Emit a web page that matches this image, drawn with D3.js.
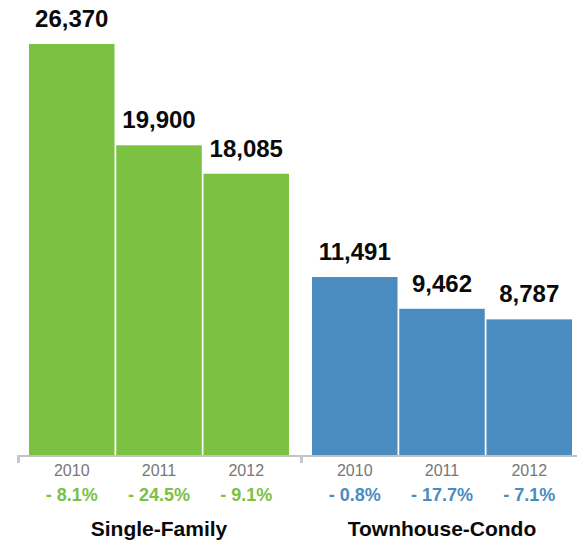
<!DOCTYPE html>
<html>
<head>
<meta charset="utf-8">
<script src="https://cdn.jsdelivr.net/npm/d3@7"></script>
<style>
  body { margin: 0; background: #fff; }
  svg { display: block; font-family: "Liberation Sans", Arial, Helvetica, sans-serif; }
</style>
</head>
<body>
<script>
// data
var groups = ['Single-Family', 'Townhouse-Condo'];
var years = ['2010', '2011', '2012'];
var singleFamily = [26370, 19900, 18085];
var townhouseCondo = [11491, 9462, 8787];
var singleChange = ['- 8.1%', '- 24.5%', '- 9.1%'];
var townChange = ['- 0.8%', '- 17.7%', '- 7.1%'];
var colors = ['#7bc142', '#4a8bc0'];

var width = 577, height = 543;
var baseY = 457;

var values = [singleFamily, townhouseCondo];
var changes = [singleChange, townChange];

var svg = d3.select('body').append('svg')
    .attr('width', width)
    .attr('height', height);

var x0 = d3.scaleBand()
    .domain(groups)
    .range([29, 572])
    .paddingInner(0.0813);

var x1 = d3.scaleBand()
    .domain(years)
    .range([0, x0.bandwidth()])
    .paddingInner(0.02);

var y = d3.scaleLinear()
    .domain([0, d3.max(singleFamily)])
    .range([baseY, 44]);

var fmt = d3.format(',');
var gap = x0.step() - x0.bandwidth();

groups.forEach(function (g, gi) {
    var rows = years.map(function (yr, i) {
        return { year: yr, value: values[gi][i], change: changes[gi][i] };
    });
    var grp = svg.append('g')
        .attr('transform', 'translate(' + x0(g) + ',0)');

    grp.selectAll('rect')
        .data(rows)
        .enter().append('rect')
        .attr('x', function (d) { return x1(d.year); })
        .attr('y', function (d) { return y(d.value); })
        .attr('width', x1.bandwidth())
        .attr('height', function (d) { return baseY - y(d.value); })
        .attr('fill', colors[gi]);

    // value labels
    grp.selectAll('.val')
        .data(rows)
        .enter().append('text')
        .attr('class', 'val')
        .attr('x', function (d) { return x1(d.year) + x1.bandwidth() / 2; })
        .attr('y', function (d) { return y(d.value) - 17; })
        .attr('text-anchor', 'middle')
        .style('font-size', '24px')
        .style('font-weight', 'bold')
        .attr('fill', '#0a0a0a')
        .text(function (d) { return fmt(d.value); });

    // year labels
    grp.selectAll('.yr')
        .data(rows)
        .enter().append('text')
        .attr('class', 'yr')
        .attr('x', function (d) { return x1(d.year) + x1.bandwidth() / 2; })
        .attr('y', 476)
        .attr('text-anchor', 'middle')
        .style('font-size', '16px')
        .attr('fill', '#777')
        .text(function (d) { return d.year; });

    // percent change
    grp.selectAll('.chg')
        .data(rows)
        .enter().append('text')
        .attr('class', 'chg')
        .attr('x', function (d) { return x1(d.year) + x1.bandwidth() / 2; })
        .attr('y', 501)
        .attr('text-anchor', 'middle')
        .style('font-size', '18px')
        .style('font-weight', 'bold')
        .attr('fill', colors[gi])
        .text(function (d) { return d.change; });

    // group label
    grp.append('text')
        .attr('x', x0.bandwidth() / 2)
        .attr('y', 536)
        .attr('text-anchor', 'middle')
        .style('font-size', '21px')
        .style('font-weight', 'bold')
        .attr('fill', '#0a0a0a')
        .text(g);
});

// baseline axis with ticks between groups
svg.append('line')
    .attr('x1', x0(groups[0]) - gap / 2)
    .attr('x2', width)
    .attr('y1', 456)
    .attr('y2', 456)
    .attr('stroke', '#c2c2c2')
    .attr('stroke-width', 2);

svg.selectAll('.tick')
    .data(groups)
    .enter().append('line')
    .attr('class', 'tick')
    .attr('x1', function (g) { return x0(g) - gap / 2 + 1; })
    .attr('x2', function (g) { return x0(g) - gap / 2 + 1; })
    .attr('y1', 455)
    .attr('y2', 463)
    .attr('stroke', '#c8c8c8')
    .attr('stroke-width', 3);
</script>
</body>
</html>
